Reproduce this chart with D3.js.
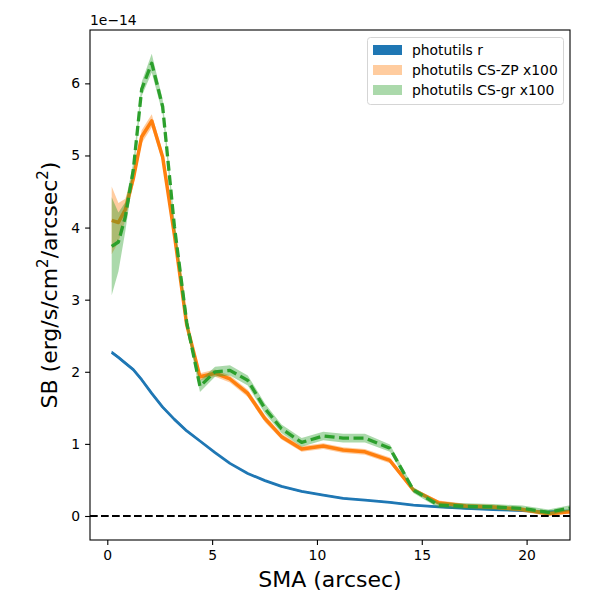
<!DOCTYPE html>
<html>
<head>
<meta charset="utf-8">
<script src="https://cdn.jsdelivr.net/npm/d3@7"></script>
<style>
  body { margin: 0; background: #fff; }
  text { font-family: "DejaVu Sans", sans-serif; }
</style>
</head>
<body>
<div id="f1"></div>
<script>
const W = 600, H = 600;
const M = {left: 90, right: 30, top: 30, bottom: 60};

// semi-major axis (arcsec)
const sma = [0.21, 0.53, 0.86, 1.24, 1.64, 2.12, 2.64, 3.2, 3.79, 4.42, 5.14, 5.85, 6.7,
             7.52, 8.31, 9.27, 10.3, 11.25, 12.29, 13.48, 14.6, 15.8, 17.1, 18.4, 19.8, 21.04, 22.07];

// surface brightness, in units of 1e-14 erg/s/cm2/arcsec2
const sbR = [2.27, 2.20, 2.12, 2.03, 1.89, 1.70, 1.51, 1.34, 1.18, 1.04, 0.88, 0.73, 0.59,
             0.49, 0.41, 0.34, 0.29, 0.245, 0.22, 0.19, 0.15, 0.125, 0.105, 0.09, 0.075, 0.055, 0.07];
const errR = [0.02, 0.02, 0.02, 0.02, 0.02, 0.02, 0.02, 0.02, 0.015, 0.015, 0.01, 0.01, 0.01,
              0.01, 0.01, 0.01, 0.01, 0.01, 0.01, 0.01, 0.01, 0.01, 0.01, 0.01, 0.01, 0.01, 0.01];

const sbZP = [4.10, 4.07, 4.25, 4.68, 5.26, 5.48, 4.98, 3.90, 2.65, 1.93, 1.98, 1.90, 1.70,
              1.35, 1.10, 0.93, 0.97, 0.915, 0.89, 0.77, 0.36, 0.185, 0.14, 0.125, 0.09, 0.03, 0.06];
const errZP = [0.47, 0.27, 0.15, 0.09, 0.09, 0.09, 0.07, 0.06, 0.05, 0.05, 0.05, 0.05, 0.05,
               0.05, 0.04, 0.04, 0.04, 0.04, 0.04, 0.04, 0.03, 0.03, 0.03, 0.03, 0.03, 0.03, 0.03];

const sbGR = [3.74, 3.80, 4.15, 4.80, 5.92, 6.28, 5.68, 4.02, 2.68, 1.80, 2.00, 2.02, 1.88,
              1.49, 1.21, 1.02, 1.11, 1.08, 1.08, 0.94, 0.36, 0.15, 0.135, 0.125, 0.105, 0.05, 0.11];
const errGR = [0.68, 0.41, 0.20, 0.10, 0.10, 0.13, 0.10, 0.09, 0.08, 0.08, 0.07, 0.07, 0.07,
               0.07, 0.06, 0.06, 0.06, 0.06, 0.06, 0.05, 0.04, 0.04, 0.04, 0.04, 0.04, 0.04, 0.04];

const xTicks = [0, 5, 10, 15, 20];
const yTicks = [0, 1, 2, 3, 4, 5, 6];
const labels = ["photutils r", "photutils CS-ZP x100", "photutils CS-gr x100"];

const series = [
  {y: sbR, err: errR, color: "#1f77b4", fillOpacity: 1, width: 2.8, dash: null},
  {y: sbZP, err: errZP, color: "#ff7f0e", fillOpacity: 0.4, width: 3.5, dash: null},
  {y: sbGR, err: errGR, color: "#2ca02c", fillOpacity: 0.4, width: 3.3, dash: "10,4.5"},
];

const svg = d3.select("#f1").append("svg")
  .attr("width", W).attr("height", H);

const x = d3.scaleLinear().domain([-0.825, 22.07]).range([M.left, W - M.right]);
const y = d3.scaleLinear().domain([-0.333, 6.74]).range([H - M.bottom, M.top]);

const plot = svg.append("g");
plot.append("clipPath").attr("id", "clip")
  .append("rect")
  .attr("x", M.left).attr("y", M.top)
  .attr("width", W - M.left - M.right).attr("height", H - M.top - M.bottom);

const g = plot.append("g").attr("clip-path", "url(#clip)");

series.forEach(function(s) {
  const area = d3.area()
    .x((d, i) => x(sma[i]))
    .y0((d, i) => y(d - s.err[i]))
    .y1((d, i) => y(d + s.err[i]));
  g.append("path")
    .attr("d", area(s.y))
    .attr("fill", s.color)
    .attr("fill-opacity", s.fillOpacity);
  const line = d3.line().x((d, i) => x(sma[i])).y(d => y(d));
  g.append("path")
    .attr("d", line(s.y))
    .attr("fill", "none")
    .attr("stroke", s.color)
    .attr("stroke-width", s.width)
    .attr("stroke-dasharray", s.dash)
    .attr("stroke-linejoin", "round");
});

// zero line
g.append("line")
  .attr("x1", M.left).attr("x2", W - M.right)
  .attr("y1", y(0)).attr("y2", y(0))
  .attr("stroke", "#000")
  .attr("stroke-width", 2)
  .attr("stroke-dasharray", "7.7,3.3");

// axes
const xAxis = d3.axisBottom(x).tickValues(xTicks).tickSize(4.9).tickPadding(4.9);
const yAxis = d3.axisLeft(y).tickValues(yTicks).tickSize(4.9).tickPadding(4.9);

svg.append("g")
  .attr("transform", `translate(0,${H - M.bottom})`)
  .call(xAxis)
  .call(a => a.select(".domain").remove())
  .selectAll("text").attr("font-size", 13.9).attr("fill", "#000");
svg.append("g")
  .attr("transform", `translate(${M.left},0)`)
  .call(yAxis)
  .call(a => a.select(".domain").remove())
  .selectAll("text").attr("font-size", 13.9).attr("fill", "#000");
svg.selectAll(".tick line").attr("stroke", "#000").attr("stroke-width", 1.1);

svg.append("rect")
  .attr("x", M.left).attr("y", M.top)
  .attr("width", W - M.left - M.right).attr("height", H - M.top - M.bottom)
  .attr("fill", "none").attr("stroke", "#000").attr("stroke-width", 1.1);

// offset text
svg.append("text")
  .attr("x", M.left).attr("y", 25)
  .attr("font-size", 13.9)
  .text("1e\u221214");

// axis labels
svg.append("text")
  .attr("x", (M.left + W - M.right) / 2).attr("y", 587)
  .attr("text-anchor", "middle")
  .attr("font-size", 22)
  .text("SMA (arcsec)");

const yl = svg.append("text")
  .attr("transform", `translate(57,${(M.top + H - M.bottom) / 2}) rotate(-90)`)
  .attr("text-anchor", "middle")
  .attr("font-size", 22);
yl.append("tspan").text("SB (erg/s/cm");
yl.append("tspan").attr("font-size", 15).attr("dy", -9).text("2");
yl.append("tspan").attr("dy", 9).text("/arcsec");
yl.append("tspan").attr("font-size", 15).attr("dy", -9).text("2");
yl.append("tspan").attr("dy", 9).text(")");

// legend
const lg = svg.append("g");
lg.append("rect")
  .attr("x", 367.5).attr("y", 37.5)
  .attr("width", 196).attr("height", 67)
  .attr("rx", 3)
  .attr("fill", "#fff").attr("fill-opacity", 0.8)
  .attr("stroke", "#d5d5d5").attr("stroke-width", 1);
series.forEach(function(s, i) {
  const cy = 50 + i * 20;
  lg.append("rect")
    .attr("x", 373).attr("y", cy - 5)
    .attr("width", 29).attr("height", 10)
    .attr("fill", s.color).attr("fill-opacity", s.fillOpacity);
  lg.append("text")
    .attr("x", 412).attr("y", cy + 5)
    .attr("font-size", 13.9)
    .text(labels[i]);
});
</script>
</body>
</html>
